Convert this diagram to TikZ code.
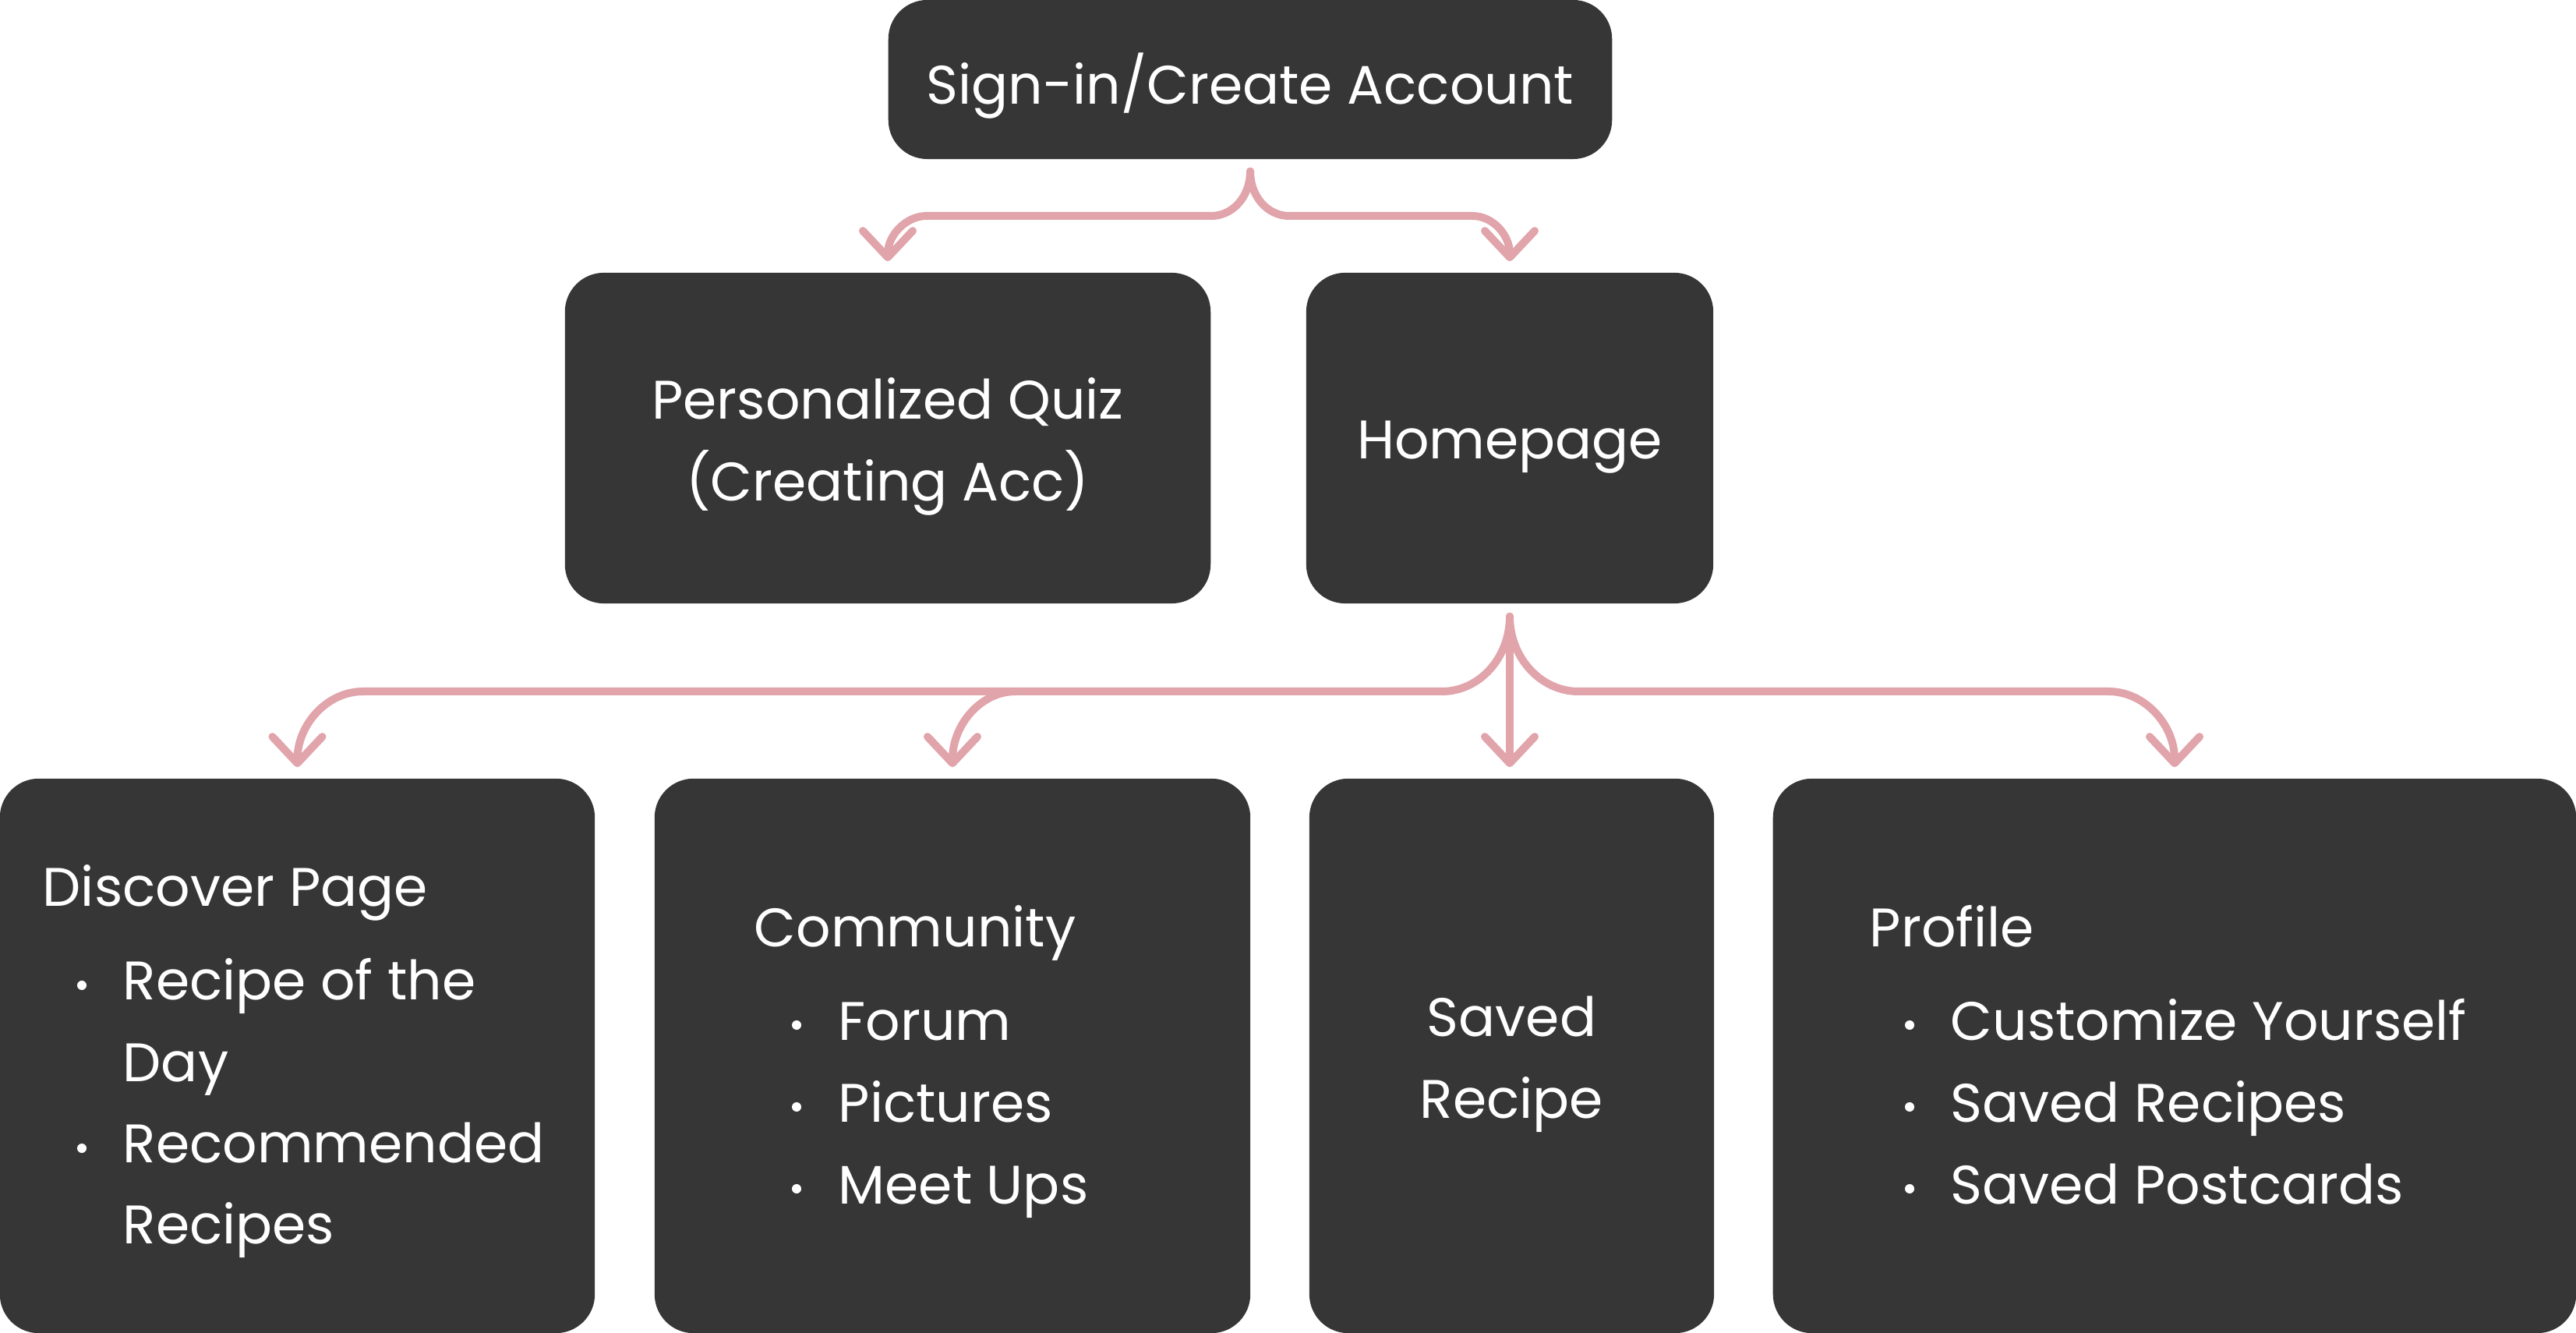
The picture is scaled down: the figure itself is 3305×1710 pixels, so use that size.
\documentclass[tikz,border=0pt]{standalone}
\usepackage{fontspec}
\setmainfont{Poppins}
\usetikzlibrary{arrows.meta}
\definecolor{boxfill}{HTML}{363636}
\definecolor{linkpink}{HTML}{E0A4AA}
\begin{document}
\begin{tikzpicture}[x=0.01cm, y=-0.01cm,
  box/.style={fill=boxfill, draw=none, rounded corners=0.5cm, inner sep=0pt},
  boxtext/.style={text=white, align=center, inner sep=0pt,
    font=\fontsize{19.8pt}{29.9pt}\selectfont},
  txt/.style={text=white, inner sep=0pt, anchor=base west,
    font=\fontsize{19.8pt}{29.9pt}\selectfont},
  bulletdot/.style={circle, fill=white, draw=none, inner sep=0pt, minimum size=0.12cm},
  link/.style={draw=linkpink, line width=0.1cm, line cap=round, line join=round,
    -{Straight Barb[round, length=3.4mm, width=6.4mm]}}]
\useasboundingbox (0,0) rectangle (3305,1710);

% boxes
\node[box, minimum width=9.28cm, minimum height=2.04cm] (top) at (1604,102) {};
\node[box, minimum width=8.28cm, minimum height=4.24cm] (quiz) at (1139,562) {};
\node[box, minimum width=5.22cm, minimum height=4.24cm] (home) at (1937,562) {};
\node[box, minimum width=7.63cm, minimum height=7.11cm] (disc) at (381.5,1354.5) {};
\node[box, minimum width=7.64cm, minimum height=7.11cm] (comm) at (1222,1354.5) {};
\node[box, minimum width=5.19cm, minimum height=7.11cm] (saved) at (1939.5,1354.5) {};
\node[box, minimum width=10.30cm, minimum height=7.11cm] (prof) at (2790,1354.5) {};

% centred captions
\node[boxtext] (topT) at ([yshift=-0.08cm]top.center) {Sign-in/Create Account};
\node[boxtext] (quizT) at ([yshift=-0.11cm]quiz.center) {Personalized Quiz\\(Creating Acc)};
\node[boxtext] (homeT) at ([yshift=-0.12cm]home.center) {Homepage};
\node[boxtext] (savedT) at ([yshift=-0.11cm]saved.center) {Saved\\Recipe};

% Discover Page list
\node[txt] (discH) at (54,1163) {Discover Page};
\node[bulletdot] (discB1) at (105,1264) {};
\node[txt] (discT1) at (157,1282) {Recipe of the};
\node[txt] (discT1b) at (157,1387) {Day};
\node[bulletdot] (discB2) at (105,1473) {};
\node[txt] (discT2) at (157,1491) {Recommended};
\node[txt] (discT2b) at (157,1595) {Recipes};

% Community list
\node[txt] (commH) at (967,1215) {Community};
\node[bulletdot] (commB1) at (1022,1315) {};
\node[txt] (commT1) at (1075,1334) {Forum};
\node[bulletdot] (commB2) at (1022,1420) {};
\node[txt] (commT2) at (1075,1439) {Pictures};
\node[bulletdot] (commB3) at (1022,1525) {};
\node[txt] (commT3) at (1075,1544) {Meet Ups};

% Profile list
\node[txt] (profH) at (2398,1215) {Profile};
\node[bulletdot] (profB1) at (2450,1315) {};
\node[txt] (profT1) at (2502,1334) {Customize Yourself};
\node[bulletdot] (profB2) at (2450,1420) {};
\node[txt] (profT2) at (2502,1439) {Saved Recipes};
\node[bulletdot] (profB3) at (2450,1525) {};
\node[txt] (profT3) at (2502,1544) {Saved Postcards};

% junction points on the horizontal rails
\coordinate (topL) at (1554,277);
\coordinate (topLend) at (1189,277);
\coordinate (topR) at (1654,277);
\coordinate (topRend) at (1889,277);
\coordinate (homeL) at (1850,887);
\coordinate (homeLend) at (466,887);
\coordinate (commJ) at (1303,887);
\coordinate (homeR) at (2025,887);
\coordinate (homeRend) at (2705,887);

% connectors from the sign-in box
\draw[link] ([yshift=-0.15cm]top.south) .. controls +(0,32) and +(28,0) .. (topL)
  -- (topLend) .. controls +(-27,0) and +(0,-33) .. ([yshift=0.14cm]quiz.north);
\draw[link] ([yshift=-0.15cm]top.south) .. controls +(0,32) and +(-28,0) .. (topR)
  -- (topRend) .. controls +(27,0) and +(0,-33) .. ([yshift=0.14cm]home.north);

% connectors from the homepage box
\draw[link] ([yshift=-0.16cm]home.south) .. controls +(0,53) and +(48,0) .. (homeL)
  -- (homeLend) .. controls +(-47,0) and +(0,-54) .. ([yshift=0.14cm]disc.north);
\draw[link] (commJ) .. controls +(-45,0) and +(0,-54) .. ([yshift=0.14cm]comm.north);
\draw[link] ([yshift=-0.16cm]home.south) -- ([yshift=0.14cm]home.south |- saved.north);
\draw[link] ([yshift=-0.16cm]home.south) .. controls +(0,53) and +(-48,0) .. (homeR)
  -- (homeRend) .. controls +(47,0) and +(0,-54) .. ([yshift=0.14cm]prof.north);
\end{tikzpicture}
\end{document}
